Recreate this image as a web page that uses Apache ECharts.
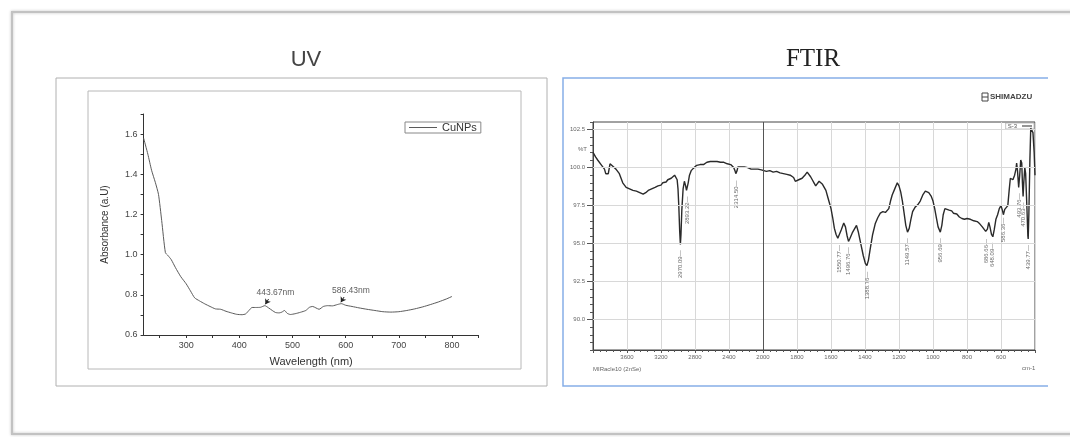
<!DOCTYPE html>
<html>
<head>
<meta charset="utf-8">
<script src="https://cdn.jsdelivr.net/npm/echarts@6/dist/echarts.min.js"></script>
<style>
  html, body { margin: 0; padding: 0; background: #fff; }
  #main { width: 1070px; height: 437px; }
</style>
</head>
<body>
<div id="main"></div>
<script>
// UV-Vis spectrum (CuNPs)
const uvWavelength = [220, 228, 235, 242, 248, 254, 261, 266, 272, 280, 290, 300, 308, 316, 325, 335, 345, 355, 365, 375, 385, 395, 405, 412, 418, 424, 432, 440, 448, 455, 462, 468, 475, 480, 485, 490, 496, 505, 515, 525, 532, 538, 544, 550, 558, 566, 575, 585, 592, 600, 612, 625, 640, 655, 670, 685, 700, 715, 730, 745, 760, 775, 790, 800]
const uvAbsorbance = [1.58, 1.50, 1.42, 1.36, 1.30, 1.17, 1.01, 0.995, 0.975, 0.935, 0.89, 0.855, 0.82, 0.785, 0.77, 0.755, 0.742, 0.73, 0.728, 0.718, 0.71, 0.703, 0.701, 0.705, 0.722, 0.737, 0.737, 0.738, 0.746, 0.735, 0.722, 0.712, 0.71, 0.714, 0.722, 0.708, 0.702, 0.706, 0.713, 0.722, 0.738, 0.742, 0.735, 0.728, 0.742, 0.746, 0.745, 0.752, 0.756, 0.748, 0.742, 0.735, 0.728, 0.722, 0.716, 0.714, 0.716, 0.722, 0.73, 0.74, 0.752, 0.765, 0.78, 0.792]
const uvXLabels = [300, 400, 500, 600, 700, 800]
const uvXTicks = [250, 300, 350, 400, 450, 500, 550, 600, 650, 700, 750, 800, 850]
const uvYLabels = [0.6, 0.8, 1.0, 1.2, 1.4, 1.6]
const uvYTicks = [0.6, 0.7, 0.8, 0.9, 1.0, 1.1, 1.2, 1.3, 1.4, 1.5, 1.6, 1.7]
const uvPeakNames = ['443.67nm', '586.43nm']
const uvPeakX = [449, 591]
const uvPeakY = [0.749, 0.759]

// FTIR spectrum (S-3)
const ftWavenumber = [4000, 3970, 3945, 3925, 3905, 3885, 3865, 3850, 3835, 3820, 3800, 3785, 3770, 3750, 3730, 3710, 3690, 3670, 3650, 3630, 3610, 3590, 3570, 3550, 3530, 3510, 3490, 3470, 3450, 3430, 3410, 3395, 3380, 3365, 3350, 3330, 3310, 3290, 3270, 3250, 3235, 3220, 3200, 3180, 3160, 3140, 3120, 3100, 3080, 3060, 3040, 3025, 3010, 3000, 2990, 2980, 2972, 2965, 2955, 2940, 2925, 2910, 2900, 2893, 2880, 2865, 2845, 2820, 2800, 2780, 2760, 2740, 2720, 2700, 2680, 2660, 2640, 2620, 2600, 2580, 2560, 2540, 2520, 2500, 2480, 2460, 2440, 2420, 2400, 2380, 2360, 2345, 2330, 2320, 2314, 2305, 2295, 2280, 2260, 2240, 2220, 2200, 2180, 2160, 2140, 2120, 2100, 2080, 2060, 2040, 2020, 2000, 1980, 1960, 1940, 1920, 1900, 1880, 1860, 1840, 1820, 1810, 1800, 1790, 1780, 1770, 1760, 1750, 1740, 1730, 1720, 1710, 1700, 1690, 1680, 1670, 1660, 1650, 1640, 1630, 1620, 1610, 1600, 1590, 1580, 1570, 1560, 1551, 1540, 1525, 1515, 1505, 1497, 1490, 1475, 1460, 1450, 1440, 1425, 1410, 1398, 1389, 1380, 1370, 1355, 1340, 1325, 1310, 1295, 1280, 1270, 1260, 1250, 1240, 1225, 1210, 1200, 1190, 1180, 1170, 1160, 1150, 1140, 1130, 1120, 1105, 1090, 1075, 1060, 1045, 1035, 1025, 1010, 1000, 990, 980, 970, 957, 948, 940, 930, 920, 905, 890, 880, 860, 845, 830, 815, 800, 780, 760, 740, 725, 710, 700, 690, 687, 680, 672, 665, 656, 648, 640, 630, 620, 610, 600, 592, 586, 578, 570, 560, 552, 545, 538, 530, 520, 512, 508, 503, 496, 490, 484, 478, 474, 470, 466, 460, 455, 448, 442, 440, 436, 430, 425, 420, 412, 405, 400]
const ftTransmittance = [101.0, 100.7, 100.5, 100.55, 100.2, 100.3, 99.9, 99.6, 99.5, 99.6, 100.25, 100.3, 100.1, 100.15, 99.9, 99.85, 99.6, 99.3, 99.0, 98.85, 98.7, 98.75, 98.6, 98.65, 98.5, 98.55, 98.45, 98.4, 98.35, 98.4, 98.25, 98.2, 98.35, 98.4, 98.5, 98.45, 98.6, 98.65, 98.7, 98.6, 98.8, 98.9, 98.85, 99.0, 99.1, 99.05, 99.2, 99.25, 99.3, 99.4, 99.5, 99.45, 99.2, 98.6, 97.4, 95.8, 94.95, 95.6, 97.2, 98.6, 99.1, 98.8, 98.5, 98.5, 99.0, 99.5, 99.8, 99.95, 100.05, 100.15, 100.1, 100.2, 100.25, 100.2, 100.3, 100.35, 100.3, 100.4, 100.45, 100.4, 100.45, 100.4, 100.45, 100.35, 100.4, 100.35, 100.3, 100.25, 100.3, 100.2, 100.1, 100.0, 99.8, 99.6, 99.55, 99.8, 100.05, 100.0, 100.05, 100.0, 100.05, 99.95, 100.0, 99.95, 99.9, 99.95, 99.9, 99.85, 99.9, 99.8, 99.85, 99.85, 99.75, 99.8, 99.7, 99.75, 99.65, 99.6, 99.55, 99.5, 99.35, 99.1, 99.1, 99.2, 99.2, 99.3, 99.2, 99.55, 99.7, 99.65, 99.4, 99.2, 99.0, 98.8, 98.8, 99.1, 99.05, 98.9, 98.8, 98.5, 98.1, 97.7, 97.3, 96.7, 96.0, 95.6, 95.35, 95.3, 95.9, 96.35, 96.1, 95.5, 95.15, 95.3, 95.7, 96.0, 96.2, 95.8, 95.0, 94.2, 93.7, 93.55, 93.9, 94.6, 95.6, 96.3, 96.7, 97.0, 97.1, 97.05, 96.95, 97.3, 97.8, 98.2, 98.6, 99.0, 98.8, 98.4, 97.8, 97.0, 96.2, 95.75, 96.0, 96.6, 97.1, 97.4, 97.55, 97.8, 98.2, 98.45, 98.5, 98.35, 98.1, 97.8, 97.3, 96.7, 96.1, 95.75, 96.2, 96.9, 97.3, 97.25, 97.2, 97.15, 97.0, 96.95, 96.75, 96.65, 96.6, 96.65, 96.6, 96.5, 96.45, 96.3, 96.1, 96.0, 95.8, 95.7, 95.95, 96.4, 96.1, 95.6, 95.45, 95.9, 96.6, 96.9, 97.3, 97.5, 97.2, 96.9, 97.25, 97.2, 97.5, 98.5, 99.3, 99.4, 99.2, 99.5, 99.9, 100.3, 99.8, 98.7, 99.5, 100.5, 100.3, 99.0, 98.1, 99.0, 100.0, 99.6, 97.5, 95.5, 95.3, 97.0, 100.5, 102.6, 102.7, 102.3, 101.0, 99.5]
const ftPeakNames = ['2970.09', '2893.22', '2314.50', '1550.77', '1496.76', '1388.76', '1149.57', '956.69', '686.66', '648.09', '586.36', '493.76', '470.63', '439.77']
const ftPeakX = [2970.09, 2893.22, 2314.5, 1550.77, 1496.76, 1388.76, 1149.57, 956.69, 686.66, 648.09, 586.36, 493.76, 470.63, 439.77]
const ftPeakY = [94.95, 98.5, 99.55, 95.3, 95.15, 93.55, 95.75, 95.75, 95.7, 95.45, 97.1, 98.7, 98.1, 95.3]
const ftXLabels = [3600, 3200, 2800, 2400, 2000, 1800, 1600, 1400, 1200, 1000, 800, 600]
const ftYLabels = [90, 92.5, 95, 97.5, 100, 102.5]

// the instrument plots 4000-2000 at half the scale of 2000-400
function toScale(w) {
  return w >= 2000 ? (4000 - w) / 400 : 5 + (2000 - w) / 200
}
function fromScale(u) {
  return Math.round(u <= 5 ? 4000 - 400 * u : 2000 - 200 * (u - 5))
}

const chart = echarts.init(document.getElementById('main'))
const sans = 'Liberation Sans, Arial, sans-serif'
const smallText = { fontSize: 6, color: '#666', fontFamily: sans }

const option = {
  backgroundColor: '#fff',
  animation: false,
  title: [{
    text: 'UV',
    left: 301,
    top: 44,
    textAlign: 'center',
    textStyle: { fontSize: 22, fontWeight: 'normal', color: '#444', fontFamily: sans }
  }, {
    text: 'FTIR',
    left: 808,
    top: 42,
    textAlign: 'center',
    textStyle: { fontSize: 25, fontWeight: 'normal', color: '#222', fontFamily: 'Liberation Serif, Times New Roman, serif' }
  }],
  legend: [{
    data: ['CuNPs'],
    left: 405,
    top: 122,
    icon: 'rect',
    itemWidth: 28,
    itemHeight: 1,
    padding: [0, 4],
    borderColor: '#888',
    borderWidth: 1,
    textStyle: { fontSize: 11, color: '#333', fontFamily: sans, lineHeight: 10 }
  }, {
    data: ['S-3'],
    right: 36,
    top: 123,
    align: 'right',
    icon: 'rect',
    itemWidth: 10,
    itemHeight: 1,
    padding: [0, 2],
    borderColor: '#999',
    borderWidth: 0.6,
    textStyle: { fontSize: 6, color: '#555', fontFamily: sans, lineHeight: 6 }
  }],
  graphic: [
    { type: 'rect', shape: { x: 12, y: 12, width: 1075, height: 422 }, style: { fill: 'none', stroke: '#c2c2c2', lineWidth: 2, shadowBlur: 3, shadowColor: 'rgba(0,0,0,0.25)' }, silent: true, z: -10 },
    { type: 'rect', shape: { x: 56, y: 78, width: 491, height: 308 }, style: { fill: 'none', stroke: '#b0b0b0', lineWidth: 1 }, silent: true, z: -10 },
    { type: 'rect', shape: { x: 88, y: 91, width: 433, height: 278 }, style: { fill: 'none', stroke: '#b8b8b8', lineWidth: 1 }, silent: true, z: -10 },
    { type: 'polyline', shape: { points: [[1048, 78], [563, 78], [563, 386], [1048, 386]] }, style: { fill: 'none', stroke: '#86aee8', lineWidth: 1.5 }, silent: true, z: -10 },
    { type: 'rect', shape: { x: 982, y: 93, width: 6, height: 8 }, style: { fill: '#fff', stroke: '#444', lineWidth: 1 }, silent: true },
    { type: 'line', shape: { x1: 982, y1: 97, x2: 988, y2: 97 }, style: { stroke: '#444', lineWidth: 1 }, silent: true },
    { type: 'text', left: 990, top: 93, style: { text: 'SHIMADZU', fontSize: 8, fontWeight: 'bold', fill: '#444', fontFamily: sans }, silent: true },
    { type: 'text', left: 578, top: 146, style: { text: '%T', fontSize: 6, fill: '#666', fontFamily: sans }, silent: true },
    { type: 'text', left: 593, top: 366, style: { text: 'MIRacle10 (2nSe)', fontSize: 6, fill: '#666', fontFamily: sans }, silent: true },
    { type: 'text', left: 1022, top: 365, style: { text: 'cm-1', fontSize: 6, fill: '#666', fontFamily: sans }, silent: true }
  ],
  grid: [
    { left: 143.6, top: 114, width: 335, height: 221 },
    { left: 593, top: 122, width: 442, height: 228, show: true, borderColor: '#444', borderWidth: 1 }
  ],
  xAxis: [{
    gridIndex: 0,
    type: 'value',
    min: 220,
    max: 850,
    name: 'Wavelength (nm)',
    nameLocation: 'middle',
    nameGap: 21,
    nameTextStyle: { fontSize: 11, color: '#333', fontFamily: sans },
    axisLine: { lineStyle: { color: '#333', width: 1 } },
    axisTick: { length: 3, customValues: uvXTicks, lineStyle: { color: '#333' } },
    axisLabel: { customValues: uvXLabels, fontSize: 9, color: '#444', margin: 6, fontFamily: sans },
    splitLine: { show: false }
  }, {
    gridIndex: 1,
    type: 'value',
    min: 0,
    max: 13,
    interval: 1,
    axisLine: { lineStyle: { color: '#444' } },
    axisTick: { length: 3, lineStyle: { color: '#555' } },
    minorTick: { show: true, splitNumber: 5, length: 2, lineStyle: { color: '#555' } },
    axisLabel: {
      customValues: ftXLabels.map(toScale),
      formatter: v => String(fromScale(v)),
      margin: 4,
      ...smallText
    },
    splitLine: { show: true, lineStyle: { color: '#d8d8d8', width: 1 } }
  }],
  yAxis: [{
    gridIndex: 0,
    type: 'value',
    min: 0.6,
    max: 1.7,
    name: 'Absorbance (a.U)',
    nameLocation: 'middle',
    nameGap: 33,
    nameTextStyle: { fontSize: 10, color: '#333', fontFamily: sans },
    axisLine: { show: true, lineStyle: { color: '#333', width: 1 } },
    axisTick: { show: true, length: 3, customValues: uvYTicks, lineStyle: { color: '#333' } },
    axisLabel: { customValues: uvYLabels, formatter: v => v.toFixed(1), fontSize: 9, color: '#444', margin: 6, fontFamily: sans },
    splitLine: { show: false }
  }, {
    gridIndex: 1,
    type: 'value',
    position: 'left',
    min: 88,
    max: 103,
    interval: 0.5,
    axisLine: { show: true, lineStyle: { color: '#444' } },
    axisTick: { show: true, length: 3, lineStyle: { color: '#555' } },
    axisLabel: { show: false },
    splitLine: { show: false }
  }, {
    gridIndex: 1,
    type: 'value',
    position: 'left',
    offset: 0,
    min: 88,
    max: 103,
    axisLine: { show: false },
    axisTick: { show: true, length: 6, customValues: ftYLabels, lineStyle: { color: '#555' } },
    axisLabel: { customValues: ftYLabels, formatter: v => v.toFixed(1), margin: 8, ...smallText },
    splitLine: { show: false }
  }],
  series: [{
    name: 'CuNPs',
    type: 'line',
    xAxisIndex: 0,
    yAxisIndex: 0,
    data: uvWavelength.map((x, i) => [x, uvAbsorbance[i]]),
    showSymbol: false,
    smooth: 0.2,
    lineStyle: { color: '#5a5a5a', width: 1 },
    itemStyle: { color: '#5a5a5a' },
    markLine: {
      silent: true,
      symbol: ['none', 'arrow'],
      symbolSize: 5,
      label: { show: false },
      lineStyle: { color: '#222', width: 1, type: 'solid' },
      data: uvPeakX.map((x, i) => [
        { coord: [x + 6, uvPeakY[i] + 0.03] },
        { coord: [x, uvPeakY[i] + 0.004] }
      ])
    },
    z: 3
  }, {
    type: 'scatter',
    xAxisIndex: 0,
    yAxisIndex: 0,
    data: uvPeakX.map((x, i) => ({ value: [x, uvPeakY[i]], name: uvPeakNames[i] })),
    symbolSize: 0,
    itemStyle: { color: 'transparent' },
    label: {
      show: true,
      position: 'inside',
      formatter: p => p.name,
      offset: [10, -12],
      fontSize: 8.5,
      color: '#333',
      fontFamily: sans
    },
    silent: true
  }, {
    name: 'S-3',
    type: 'line',
    xAxisIndex: 1,
    yAxisIndex: 1,
    data: ftWavenumber.map((w, i) => [toScale(w), ftTransmittance[i]]),
    showSymbol: false,
    lineStyle: { color: '#2a2a2a', width: 1.4 },
    itemStyle: { color: '#2a2a2a' },
    z: 3
  }, {
    type: 'scatter',
    xAxisIndex: 1,
    yAxisIndex: 1,
    data: ftPeakX.map((w, i) => ({ value: [toScale(w), ftPeakY[i]], name: ftPeakNames[i] })),
    symbolSize: 0,
    itemStyle: { color: 'transparent' },
    label: {
      show: true,
      position: 'bottom',
      distance: 6,
      rotate: 90,
      align: 'right',
      verticalAlign: 'middle',
      formatter: p => p.name + '—',
      fontSize: 6,
      color: '#444',
      fontFamily: sans
    },
    markLine: {
      silent: true,
      symbol: 'none',
      label: { show: false },
      data: ftYLabels.map(v => ({ yAxis: v, lineStyle: { color: '#d8d8d8', width: 1, type: 'solid' } }))
        .concat([{ xAxis: toScale(2000), lineStyle: { color: '#555', width: 1, type: 'solid' } }])
    },
    silent: true,
    z: 2
  }]
}

chart.setOption(option)
</script>
</body>
</html>
